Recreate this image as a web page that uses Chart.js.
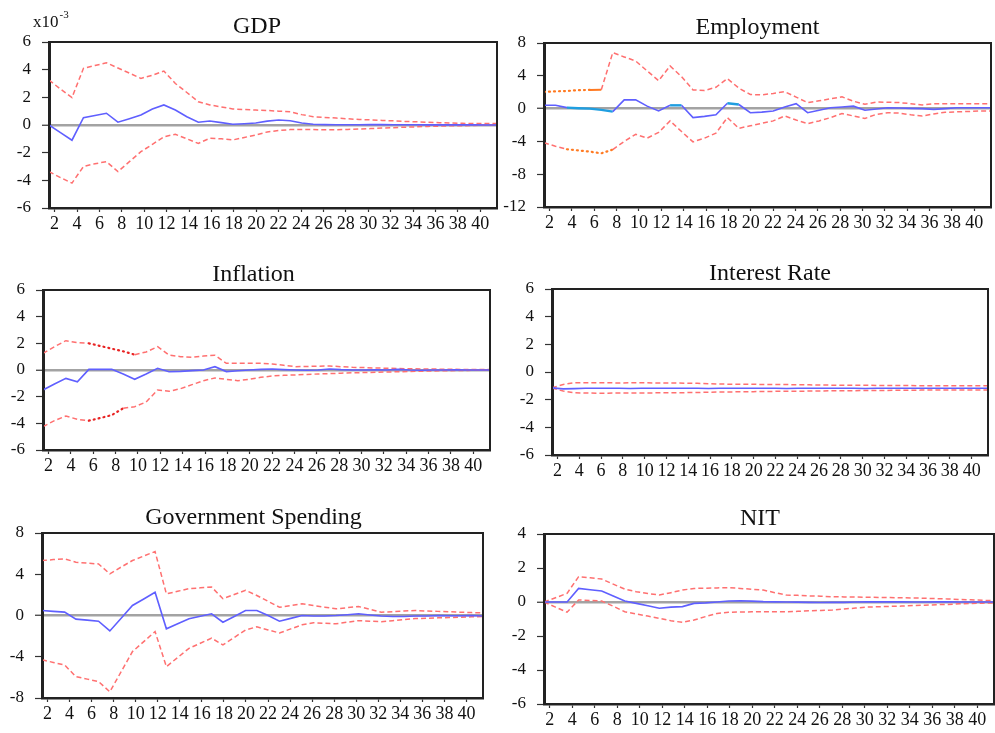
<!DOCTYPE html>
<html>
<head>
<meta charset="utf-8">
<script src="https://cdn.jsdelivr.net/npm/chart.js@4.4.1/dist/chart.umd.min.js"></script>
<style>
  body { margin: 0; background: #fff; overflow: hidden; }
  canvas { position: absolute; }
</style>
</head>
<body>
<canvas id="gdp"></canvas>
<canvas id="employment"></canvas>
<canvas id="inflation"></canvas>
<canvas id="interest"></canvas>
<canvas id="government"></canvas>
<canvas id="nit"></canvas>
<script>
// periods after the shock and the labels shown on the horizontal axis
const periods = [1,2,3,4,5,6,7,8,9,10,11,12,13,14,15,16,17,18,19,20,21,22,23,24,25,26,27,28,29,30,31,32,33,34,35,36,37,38,39,40];
const xTickLabels = [2,4,6,8,10,12,14,16,18,20,22,24,26,28,30,32,34,36,38,40];

// GDP (x10^-3)
const gdpResponse = [0,-0.55,-1.1,0.53,0.69,0.85,0.2,0.45,0.72,1.15,1.45,1.08,0.6,0.2,0.29,0.17,0.05,0.09,0.14,0.28,0.36,0.31,0.15,0.05,0.03,0.02,0.02,0.02,0.03,0.03,0.02,0.02,0.02,0.01,0.01,0.01,0.01,0.01,0,0];
const gdpUpper = [3.25,2.6,1.98,4.1,4.3,4.5,4.12,3.75,3.37,3.6,3.9,3.0,2.35,1.68,1.45,1.3,1.16,1.12,1.08,1.05,1.0,0.96,0.75,0.6,0.55,0.5,0.45,0.4,0.37,0.33,0.3,0.26,0.23,0.2,0.17,0.14,0.12,0.1,0.1,0.1];
const gdpLower = [-3.37,-3.8,-4.2,-3.0,-2.8,-2.65,-3.37,-2.65,-1.93,-1.4,-0.85,-0.67,-1.0,-1.33,-0.96,-1.0,-1.08,-0.9,-0.72,-0.5,-0.4,-0.33,-0.33,-0.33,-0.35,-0.35,-0.32,-0.29,-0.26,-0.22,-0.19,-0.16,-0.13,-0.1,-0.08,-0.06,-0.05,-0.03,-0.02,0];
const gdpTicks = [-6,-4,-2,0,2,4,6];

// Employment
const empResponse = [0.4,0.4,0.12,0.05,0,-0.16,-0.37,1.06,1.06,0.3,-0.28,0.4,0.4,-1.1,-0.95,-0.75,0.65,0.5,-0.5,-0.43,-0.3,0.2,0.6,-0.5,-0.2,0.1,0.2,0.3,-0.2,-0.05,0.1,0.07,0.03,0,-0.1,0,0.1,0.1,0.1,0.1];
const empUpper = [2.04,2.1,2.15,2.25,2.28,2.3,6.83,6.3,5.8,4.6,3.4,5.2,3.9,2.28,2.2,2.6,3.66,2.5,1.72,1.67,1.85,2.07,1.4,0.73,0.95,1.2,1.43,0.9,0.52,0.8,0.78,0.73,0.6,0.45,0.6,0.6,0.6,0.58,0.58,0.6];
const empLower = [-4.15,-4.6,-4.96,-5.1,-5.25,-5.45,-5.0,-4.0,-3.13,-3.6,-2.9,-1.5,-2.8,-4.06,-3.6,-3.0,-1.1,-2.4,-2.1,-1.8,-1.5,-0.9,-1.4,-1.83,-1.5,-1.1,-0.6,-0.9,-1.2,-0.7,-0.5,-0.55,-0.75,-0.9,-0.65,-0.45,-0.4,-0.35,-0.3,-0.3];
const empTicks = [-12,-8,-4,0,4,8];

// Inflation
const inflResponse = [-1.5,-1.05,-0.63,-0.88,0.05,0.05,0.05,-0.3,-0.7,-0.3,0.13,-0.13,-0.1,-0.05,0,0.25,-0.12,-0.06,0,0.05,0.07,0.03,0,-0.02,0,0.08,0.03,0,0,0.02,0,0.05,0,-0.02,0,0,0.02,0,0,0];
const inflUpper = [1.25,1.75,2.2,2.05,2.0,1.8,1.6,1.4,1.15,1.35,1.75,1.12,1.0,0.95,1.05,1.1,0.5,0.5,0.5,0.5,0.45,0.35,0.25,0.27,0.28,0.3,0.25,0.2,0.18,0.15,0.13,0.11,0.09,0.08,0.07,0.06,0.05,0.04,0.03,0.03];
const inflLower = [-4.25,-3.8,-3.45,-3.7,-3.8,-3.6,-3.38,-2.87,-2.75,-2.4,-1.5,-1.6,-1.4,-1.1,-0.8,-0.6,-0.7,-0.8,-0.7,-0.55,-0.45,-0.4,-0.37,-0.33,-0.3,-0.27,-0.24,-0.21,-0.19,-0.17,-0.15,-0.13,-0.11,-0.09,-0.07,-0.06,-0.04,-0.03,-0.02,0];
const inflTicks = [-6,-4,-2,0,2,4,6];

// Interest Rate
const intResponse = [-1.15,-1.22,-1.2,-1.18,-1.18,-1.17,-1.18,-1.19,-1.18,-1.17,-1.18,-1.18,-1.17,-1.18,-1.19,-1.18,-1.18,-1.17,-1.18,-1.18,-1.18,-1.19,-1.18,-1.18,-1.17,-1.18,-1.18,-1.18,-1.19,-1.18,-1.18,-1.18,-1.17,-1.18,-1.18,-1.18,-1.18,-1.18,-1.18,-1.18];
const intUpper = [-1.15,-0.9,-0.78,-0.77,-0.78,-0.78,-0.79,-0.78,-0.78,-0.79,-0.8,-0.8,-0.81,-0.82,-0.85,-0.87,-0.88,-0.88,-0.89,-0.9,-0.9,-0.91,-0.92,-0.93,-0.94,-0.95,-0.95,-0.96,-0.96,-0.97,-0.97,-0.98,-0.98,-0.99,-0.99,-0.99,-1.0,-1.0,-1.0,-1.0];
const intLower = [-1.15,-1.38,-1.5,-1.52,-1.53,-1.53,-1.52,-1.52,-1.51,-1.51,-1.5,-1.5,-1.49,-1.48,-1.46,-1.45,-1.44,-1.43,-1.42,-1.41,-1.4,-1.4,-1.39,-1.38,-1.37,-1.36,-1.35,-1.35,-1.34,-1.33,-1.33,-1.32,-1.32,-1.31,-1.31,-1.3,-1.3,-1.3,-1.3,-1.3];
const intTicks = [-6,-4,-2,0,2,4,6];

// Government Spending
const govResponse = [0.48,0.4,0.33,-0.35,-0.45,-0.55,-1.5,-0.27,0.97,1.6,2.26,-1.29,-0.8,-0.32,-0.08,0.17,-0.65,-0.1,0.48,0.48,0,-0.55,-0.28,0,-0.05,-0.05,0,0.08,0.17,0.05,-0.05,-0.1,-0.1,-0.05,-0.05,0,-0.02,-0.03,0,-0.05];
const govUpper = [5.33,5.42,5.5,5.17,5.08,5.0,4.04,4.7,5.33,5.77,6.2,2.1,2.35,2.6,2.68,2.76,1.63,2.03,2.44,1.94,1.37,0.8,0.97,1.13,0.97,0.81,0.65,0.76,0.87,0.6,0.32,0.37,0.43,0.48,0.44,0.4,0.36,0.32,0.28,0.25];
const govLower = [-4.3,-4.55,-4.8,-5.93,-6.17,-6.4,-7.4,-5.45,-3.5,-2.53,-1.56,-4.96,-4.07,-3.18,-2.69,-2.2,-2.85,-2.13,-1.4,-1.1,-1.4,-1.7,-1.3,-0.9,-0.7,-0.75,-0.8,-0.65,-0.5,-0.55,-0.6,-0.5,-0.4,-0.3,-0.27,-0.23,-0.2,-0.17,-0.13,-0.1];
const govTicks = [-8,-4,0,4,8];

// NIT
const nitResponse = [0,0,0,0.8,0.72,0.65,0.35,0.06,-0.08,-0.22,-0.37,-0.3,-0.27,-0.08,-0.05,0,0.06,0.07,0.05,0.02,0.01,0,-0.01,-0.02,-0.03,-0.02,-0.02,0,0.01,0.01,0.01,0.01,0,0,0.01,0.01,0,0,0,0];
const nitUpper = [0,0.25,0.51,1.49,1.42,1.35,1.05,0.76,0.6,0.5,0.41,0.55,0.7,0.8,0.81,0.83,0.84,0.8,0.75,0.7,0.55,0.41,0.39,0.36,0.34,0.31,0.3,0.29,0.28,0.27,0.26,0.25,0.24,0.22,0.2,0.18,0.15,0.13,0.1,0.08];
const nitLower = [0,-0.3,-0.6,0.12,0.09,0.06,-0.25,-0.57,-0.7,-0.83,-0.96,-1.1,-1.2,-1.06,-0.86,-0.67,-0.6,-0.59,-0.58,-0.57,-0.57,-0.57,-0.55,-0.52,-0.5,-0.47,-0.41,-0.36,-0.3,-0.28,-0.26,-0.24,-0.21,-0.19,-0.16,-0.14,-0.11,-0.09,-0.07,-0.05];
const nitTicks = [-6,-4,-2,0,2,4];

const BLUE = "#5f5fff";
const CYAN = "#1f9ee0";
const RED = "#ff7070";
const DOT_RED = "#e82424";
const ORANGE = "#ff7a22";
const SERIF = '"Liberation Serif", "Times New Roman", serif';

const dotted = { dash: [1, 4], cap: "round", width: 2.2 };

const panels = [
  { id: "gdp", title: "GDP", shift: -16, note: true, box: { left: 49, top: 42, right: 497, bottom: 208 },
    response: gdpResponse, upper: gdpUpper, lower: gdpLower, ticks: gdpTicks },
  { id: "employment", title: "Employment", shift: -10, box: { left: 544, top: 43, right: 991, bottom: 207 },
    response: empResponse, upper: empUpper, lower: empLower, ticks: empTicks,
    responseStyle: [
      { from: 2, to: 6, color: CYAN, width: 2.4 },
      { from: 11, to: 12, color: CYAN, width: 2.4 },
      { from: 16, to: 17, color: CYAN, width: 2.4 }
    ],
    upperStyle: [
      Object.assign({ from: 0, to: 4, color: ORANGE }, dotted),
      { from: 4, to: 5, color: ORANGE, dash: [], width: 2 }
    ],
    lowerStyle: [Object.assign({ from: 2, to: 6, color: ORANGE }, dotted)] },
  { id: "inflation", title: "Inflation", shift: -13, box: { left: 43, top: 290, right: 490, bottom: 450 },
    response: inflResponse, upper: inflUpper, lower: inflLower, ticks: inflTicks,
    upperStyle: [Object.assign({ from: 4, to: 8, color: DOT_RED }, dotted)],
    lowerStyle: [Object.assign({ from: 4, to: 7, color: DOT_RED }, dotted)] },
  { id: "interest", title: "Interest Rate", shift: 0, noZero: true, box: { left: 552, top: 289, right: 988, bottom: 455 },
    response: intResponse, upper: intUpper, lower: intLower, ticks: intTicks },
  { id: "government", title: "Government Spending", shift: -9, box: { left: 42, top: 533, right: 483, bottom: 698 },
    response: govResponse, upper: govUpper, lower: govLower, ticks: govTicks },
  { id: "nit", title: "NIT", shift: -9, box: { left: 544, top: 534, right: 994, bottom: 704 },
    response: nitResponse, upper: nitUpper, lower: nitLower, ticks: nitTicks }
];

// frame around the plot, panel title and the x10^-3 note
const panelDecor = {
  id: "panelDecor",
  afterDraw(chart, args, opts) {
    const { ctx, chartArea: a } = chart;
    ctx.save();
    ctx.strokeStyle = "#222";
    ctx.lineWidth = 2;
    ctx.strokeRect(a.left, a.top, a.right - a.left, a.bottom - a.top);
    ctx.fillStyle = "#111";
    ctx.textBaseline = "alphabetic";
    ctx.textAlign = "center";
    ctx.font = "24px " + SERIF;
    ctx.fillText(opts.text, (a.left + a.right) / 2 + opts.shift, a.top - 9);
    if (opts.note) {
      ctx.textAlign = "left";
      ctx.font = "17px " + SERIF;
      const x0 = a.left - 16;
      ctx.fillText("x10", x0, a.top - 15);
      const w = ctx.measureText("x10").width;
      ctx.font = "11px " + SERIF;
      ctx.fillText("-3", x0 + w + 1, a.top - 24);
    }
    ctx.restore();
  }
};

function pick(ranges, key) {
  return ctx => {
    const r = (ranges || []).find(s => ctx.p0DataIndex >= s.from && ctx.p0DataIndex < s.to);
    return r && r[key] !== undefined ? r[key] : undefined;
  };
}

function segmentFor(ranges) {
  return {
    borderColor: pick(ranges, "color"),
    borderDash: pick(ranges, "dash"),
    borderWidth: pick(ranges, "width"),
    borderCapStyle: pick(ranges, "cap")
  };
}

function makeChart(p) {
  const padTop = 40, yW = 44, xH = 28, padRight = 6;
  const w = p.box.right - p.box.left + yW + padRight;
  const h = p.box.bottom - p.box.top + padTop + xH;
  const canvas = document.getElementById(p.id);
  canvas.width = w;
  canvas.height = h;
  canvas.style.width = w + "px";
  canvas.style.height = h + "px";
  canvas.style.left = (p.box.left - yW) + "px";
  canvas.style.top = (p.box.top - padTop) + "px";

  const isZero = c => !p.noZero && c.tick && c.tick.value === 0;

  new Chart(canvas.getContext("2d"), {
    type: "line",
    data: {
      labels: periods,
      datasets: [
        { label: "Response", data: p.response, borderColor: BLUE, borderWidth: 1.6, segment: segmentFor(p.responseStyle) },
        { label: "Upper", data: p.upper, borderColor: RED, borderWidth: 1.5, borderDash: [5, 3], segment: segmentFor(p.upperStyle) },
        { label: "Lower", data: p.lower, borderColor: RED, borderWidth: 1.5, borderDash: [5, 3], segment: segmentFor(p.lowerStyle) }
      ]
    },
    options: {
      responsive: false,
      animation: false,
      devicePixelRatio: 1,
      layout: { padding: { top: padTop, right: padRight, left: 0, bottom: 0 } },
      elements: { point: { radius: 0 }, line: { tension: 0 } },
      plugins: {
        legend: { display: false },
        tooltip: { enabled: false },
        panelDecor: { text: p.title, shift: p.shift, note: !!p.note }
      },
      scales: {
        x: { type: "linear", min: 1, max: 40, display: false },
        xl: {
          type: "linear",
          position: "bottom",
          min: 1.5,
          max: 41.5,
          afterBuildTicks: ax => { ax.ticks = xTickLabels.map(v => ({ value: v })); },
          afterFit: ax => { ax.height = xH; },
          grid: { drawOnChartArea: false, drawTicks: true, tickLength: 4, tickColor: "#333", tickWidth: 1.2 },
          border: { display: true, color: "#222", width: 2.5 },
          ticks: { autoSkip: false, maxRotation: 0, minRotation: 0, padding: 1, color: "#111", font: { family: SERIF, size: 18 } }
        },
        y: {
          min: p.ticks[0],
          max: p.ticks[p.ticks.length - 1],
          afterBuildTicks: ax => { ax.ticks = p.ticks.map(v => ({ value: v })); },
          afterFit: ax => { ax.width = yW; },
          grid: {
            color: c => isZero(c) ? "#a3a3a3" : "rgba(0,0,0,0)",
            lineWidth: c => isZero(c) ? 2.5 : 1,
            drawTicks: true,
            tickLength: 7,
            tickColor: "#333",
            tickWidth: 1.2
          },
          border: { display: true, color: "#222", width: 3 },
          ticks: { padding: 11, color: "#111", font: { family: SERIF, size: 17 } }
        }
      }
    },
    plugins: [panelDecor]
  });
}

document.addEventListener("DOMContentLoaded", function () {
  panels.forEach(makeChart);
});
</script>
</body>
</html>
